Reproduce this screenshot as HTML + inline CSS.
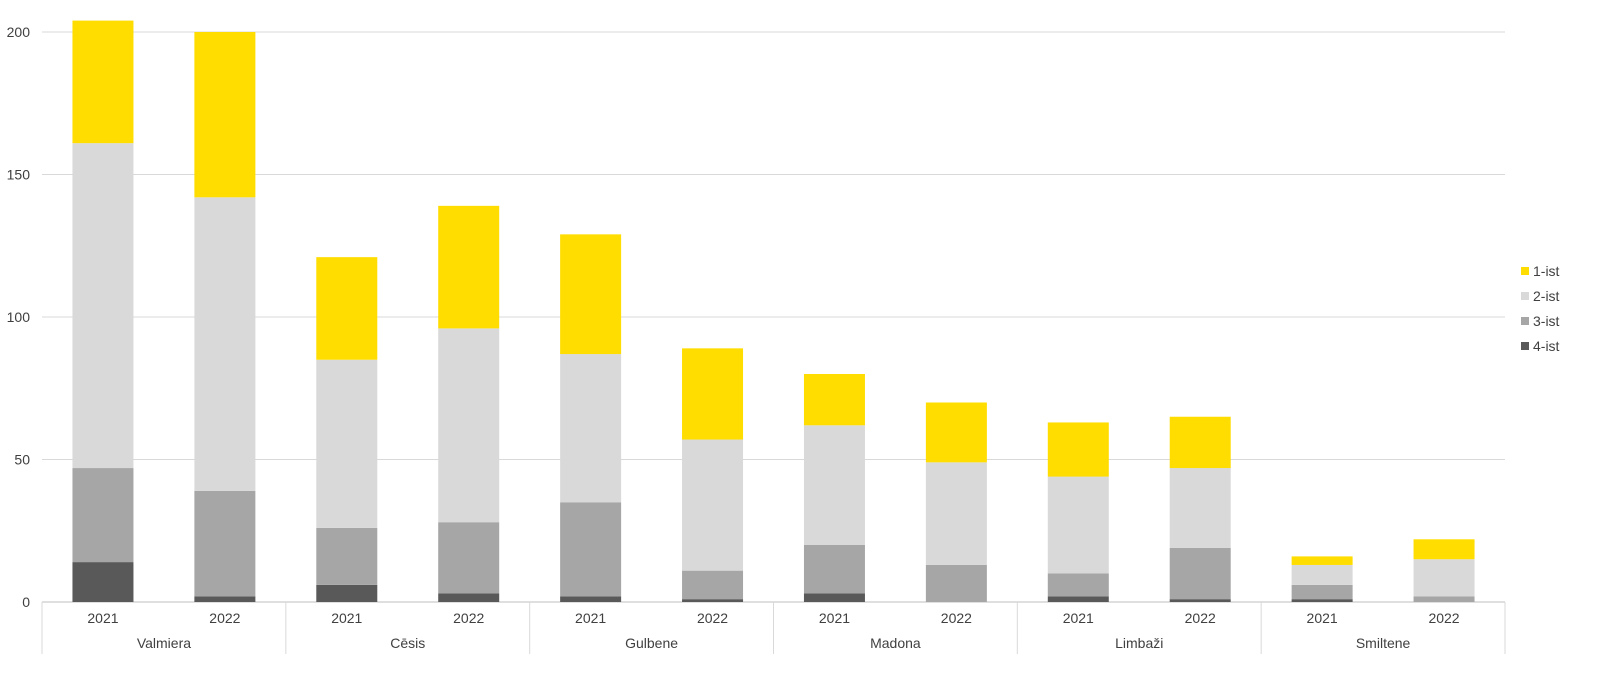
<!DOCTYPE html>
<html><head><meta charset="utf-8"><style>
body{margin:0;background:#fff;font-family:"Liberation Sans",Arial,sans-serif;}
svg text{font-family:"Liberation Sans",Arial,sans-serif;font-size:14px;fill:#404040;}
</style></head><body>
<svg id="chart" width="1619" height="679"></svg>
<script>
const groups=["Valmiera","Cēsis","Gulbene","Madona","Limbaži","Smiltene"];
const years=["2021","2022"];
const s4=[14,2,6,3,2,1,3,0,2,1,1,0];
const s3=[33,37,20,25,33,10,17,13,8,18,5,2];
const s2=[114,103,59,68,52,46,42,36,34,28,7,13];
const s1=[43,58,36,43,42,32,18,21,19,18,3,7];
const yTicks=[0,50,100,150,200];
const seriesNames=["1-ist","2-ist","3-ist","4-ist"];
const colors=["#FFDD00","#D9D9D9","#A6A6A6","#595959"];
const NS="http://www.w3.org/2000/svg";
const svg=document.getElementById('chart');
const x0=42,x1=1505,y0=602,yTop=32;
const y=v=>y0-(v/200)*(y0-yTop);
const cw=(x1-x0)/12,bw=61;
function mk(t,a){const e=document.createElementNS(NS,t);for(const k in a)e.setAttribute(k,a[k]);svg.appendChild(e);return e;}
yTicks.forEach(t=>{
 const l=mk('line',{x1:x0,x2:x1,y1:y(t),y2:y(t),stroke:t===0?'#BFBFBF':'#D9D9D9','stroke-width':1});
 
 
 const tx=mk('text',{x:30,y:y(t)+5,'text-anchor':'end'});tx.textContent=t;
 
 
});
const stacks=[s4,s3,s2,s1];const scol=[colors[3],colors[2],colors[1],colors[0]];
for(let i=0;i<12;i++){
 let cum=0;const cx=x0+cw*(i+0.5);
 stacks.forEach((s,j)=>{
  const v=s[i];if(v<=0)return;
  const r=mk('rect',{x:cx-bw/2,y:y(cum+v),width:bw,height:y(cum)-y(cum+v),fill:scol[j]});
  
  
  cum+=v;
 });
 const t=mk('text',{x:cx,y:623,'text-anchor':'middle'});t.textContent=years[i%2];
 
 
}
for(let g=0;g<=6;g++){
 const xx=x0+cw*2*g;
 const l=mk('line',{x1:xx,x2:xx,y1:y0,y2:654,stroke:'#D9D9D9'});
 
 
 if(g<6){const t=mk('text',{x:xx+cw,y:648,'text-anchor':'middle'});t.textContent=groups[g];
 
 }
}
seriesNames.forEach((n,k)=>{
 const yy=271+k*25;
 const r=mk('rect',{x:1521,y:yy-4,width:8,height:8,fill:colors[k]});
 
 
 const t=mk('text',{x:1533,y:yy+5});t.textContent=n;
 
 
});
</script>
</body></html>
